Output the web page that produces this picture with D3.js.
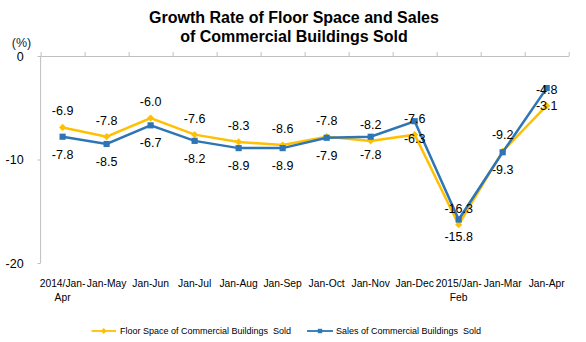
<!DOCTYPE html>
<html>
<head>
<meta charset="utf-8">
<script src="https://cdn.jsdelivr.net/npm/d3@7"></script>
<style>
  html, body { margin: 0; padding: 0; background: #fff; }
  svg { display: block; font-family: Arial, "Liberation Sans", sans-serif; }
</style>
</head>
<body>
<svg id="chart" width="586" height="342"></svg>
<script>
// Periods (cumulative from January)
const categories = ["2014/Jan-Apr", "Jan-May", "Jan-Jun", "Jan-Jul", "Jan-Aug", "Jan-Sep",
                    "Jan-Oct", "Jan-Nov", "Jan-Dec", "2015/Jan-Feb", "Jan-Mar", "Jan-Apr"];
// Year-on-year growth rates (%)
const floorSpace = [-6.9, -7.8, -6.0, -7.6, -8.3, -8.6, -7.8, -8.2, -7.6, -16.3, -9.2, -4.8];
const sales      = [-7.8, -8.5, -6.7, -8.2, -8.9, -8.9, -7.9, -7.8, -6.3, -15.8, -9.3, -3.1];
const yTicks = [0, -10, -20];
const seriesNames = ["Floor Space of Commercial Buildings  Sold", "Sales of Commercial Buildings  Sold"];
const titleLines = ["Growth Rate of Floor Space and Sales", "of Commercial Buildings Sold"];

const svg = d3.select("#chart");
const plotL = 40.6, plotR = 568.7, plotT = 56, plotB = 263;
const YELLOW = "#FFC000", BLUE = "#2E75B6", AXIS = "#bfbfbf";

// Plain hyphen-minus for negative numbers
const locale = d3.formatLocale({ decimal: ".", thousands: ",", grouping: [3], currency: ["", ""], minus: "-" });

const x = d3.scaleBand().domain(categories).range([plotL, plotR]).padding(0);
const y = d3.scaleLinear().domain([-20, 0]).range([plotB, plotT]);
const cx = d => x(d) + x.bandwidth() / 2;

// Title
svg.append("g").selectAll("text").data(titleLines).join("text")
  .attr("x", 294).attr("y", (d, i) => 23 + i * 19.2)
  .attr("text-anchor", "middle").attr("font-size", 16).attr("font-weight", "bold")
  .attr("fill", "#000").text(d => d);

// Unit label
svg.append("text").attr("x", 21.5).attr("y", 42.5).attr("dy", "0.35em")
  .attr("text-anchor", "middle").attr("font-size", 12.5).attr("fill", "#1a1a3a").text("(%)");

// Y axis
const yAxis = svg.append("g").attr("transform", `translate(${plotL},0)`)
  .call(d3.axisLeft(y).tickValues(yTicks).tickSize(3).tickPadding(14).tickFormat(locale.format("d")));
yAxis.select(".domain").attr("stroke", AXIS).attr("d", `M0,${plotT}V${plotB}`);
yAxis.selectAll(".tick line").attr("stroke", AXIS);
yAxis.selectAll(".tick text").attr("font-size", 12.5).attr("fill", "#000")
  .attr("font-family", "Arial, 'Liberation Sans', sans-serif");

// Category axis along the zero line, ticks at band boundaries
const bounds = categories.map(c => x(c)).concat([plotR]);
const xAxis = svg.append("g").attr("transform", `translate(0,${y(0)})`)
  .call(d3.axisTop(d3.scaleLinear().domain([plotL, plotR]).range([plotL, plotR]))
    .tickValues(bounds).tickSize(4).tickSizeOuter(0).tickFormat(""));
xAxis.select(".domain").attr("stroke", AXIS);
xAxis.selectAll(".tick line").attr("stroke", AXIS);

// Category labels below the plot
const catG = svg.append("g");
categories.forEach(c => {
  const cut = c.lastIndexOf("-") + 1;
  const lines = c.includes("/") ? [c.slice(0, cut), c.slice(cut)] : [c];
  catG.append("text").attr("x", cx(c)).attr("y", 287)
    .attr("text-anchor", "middle").attr("font-size", 10.3).attr("fill", "#000")
    .selectAll("tspan").data(lines).join("tspan")
    .attr("x", cx(c)).attr("dy", (d, i) => i === 0 ? 0 : 13.5).text(d => d);
});

const line = d3.line().x((d, i) => cx(categories[i])).y(d => y(d));
const diamond = d3.symbol().type(d3.symbolSquare).size(26);
const square = d3.symbol().type(d3.symbolSquare).size(38);

// Series lines and markers
svg.append("path").datum(floorSpace).attr("d", line)
  .attr("fill", "none").attr("stroke", YELLOW).attr("stroke-width", 2.5);
svg.append("g").selectAll("path").data(floorSpace).join("path")
  .attr("d", diamond)
  .attr("transform", (d, i) => `translate(${cx(categories[i])},${y(d)}) rotate(45)`)
  .attr("fill", YELLOW);

svg.append("path").datum(sales).attr("d", line)
  .attr("fill", "none").attr("stroke", BLUE).attr("stroke-width", 2.5);
svg.append("g").selectAll("path").data(sales).join("path")
  .attr("d", square)
  .attr("transform", (d, i) => `translate(${cx(categories[i])},${y(d)})`)
  .attr("fill", BLUE);

// Value labels: floor space above its point, sales below
const fmt = locale.format(".1f");
svg.append("g").selectAll("text").data(floorSpace).join("text")
  .attr("x", (d, i) => cx(categories[i])).attr("y", d => y(d) - 16.5).attr("dy", "0.35em")
  .attr("text-anchor", "middle").attr("font-size", 12.5).attr("fill", "#000")
  .text(d => fmt(d));
svg.append("g").selectAll("text").data(sales).join("text")
  .attr("x", (d, i) => cx(categories[i])).attr("y", d => y(d) + 17.5).attr("dy", "0.35em")
  .attr("text-anchor", "middle").attr("font-size", 12.5).attr("fill", "#000")
  .text(d => fmt(d));

// Legend
const legend = [
  { name: seriesNames[0], color: YELLOW, x0: 91.5, x1: 116, sym: diamond, rot: 45, tx: 120 },
  { name: seriesNames[1], color: BLUE, x0: 307, x1: 333, sym: d3.symbol().type(d3.symbolSquare).size(30), rot: 0, tx: 336 }
];
const lg = svg.append("g").selectAll("g").data(legend).join("g");
lg.append("line").attr("x1", d => d.x0).attr("x2", d => d.x1).attr("y1", 331).attr("y2", 331)
  .attr("stroke", d => d.color).attr("stroke-width", 1.8);
lg.append("path").attr("d", d => d.sym())
  .attr("transform", d => `translate(${(d.x0 + d.x1) / 2},331) rotate(${d.rot}) scale(0.8)`)
  .attr("fill", d => d.color);
lg.append("text").attr("x", d => d.tx).attr("y", 331).attr("dy", "0.35em")
  .attr("font-size", 9).attr("fill", "#000")
  .style("white-space", "pre").text(d => d.name);
</script>
</body>
</html>
